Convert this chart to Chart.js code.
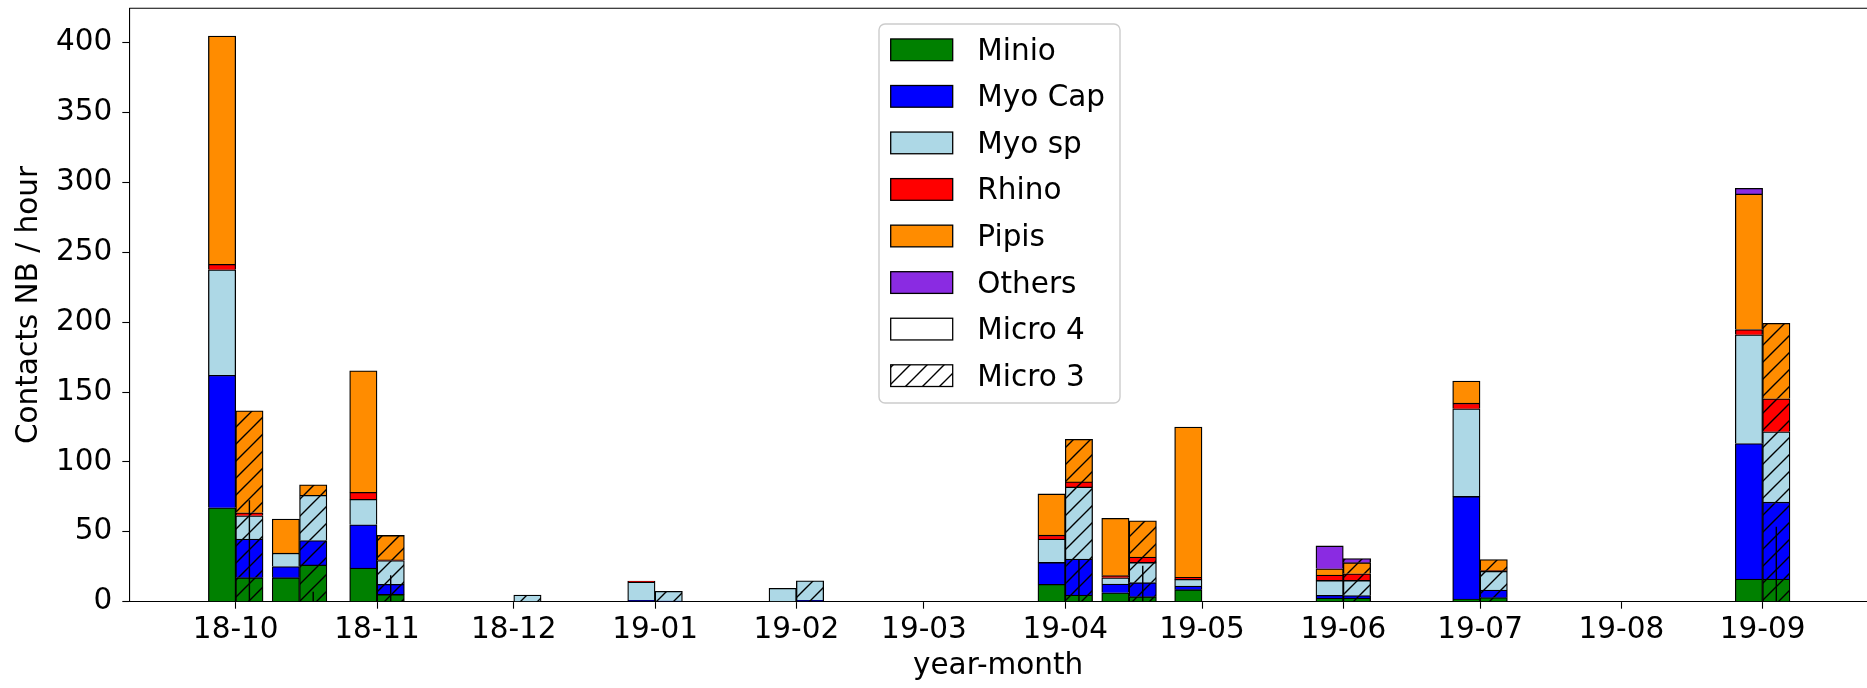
<!DOCTYPE html>
<html>
<head>
<meta charset="utf-8">
<script src="https://cdn.jsdelivr.net/npm/chart.js@4.4.1/dist/chart.umd.min.js"></script>
<style>
  html, body { margin: 0; padding: 0; background: #fff; overflow: hidden; }
  #wrap { width: 1867px; height: 688px; position: relative; }
</style>
</head>
<body>
<div id="wrap"><canvas id="chart"></canvas></div>
<script>
// sampling dates (one Micro 4 bar left of the date, one Micro 3 bar right of it)
const sampleDates = ['2018-10-01', '2018-10-15', '2018-11-01', '2018-12-01', '2019-01-01', '2019-02-01',
                     '2019-04-01', '2019-04-15', '2019-05-01', '2019-06-01', '2019-07-01', '2019-09-01'];

const monthStarts = ['2018-10-01', '2018-11-01', '2018-12-01', '2019-01-01', '2019-02-01', '2019-03-01',
                     '2019-04-01', '2019-05-01', '2019-06-01', '2019-07-01', '2019-08-01', '2019-09-01'];
const monthLabels = ['18-10', '18-11', '18-12', '19-01', '19-02', '19-03',
                     '19-04', '19-05', '19-06', '19-07', '19-08', '19-09'];

const yTicks = [0, 50, 100, 150, 200, 250, 300, 350, 400];

const species = ['Minio', 'Myo Cap', 'Myo sp', 'Rhino', 'Pipis', 'Others'];
const speciesColors = ['#008000', '#0000ff', '#add8e6', '#ff0000', '#ff8c00', '#8a2be2'];

// Micro 4 (contacts / hour)
const minio4  = [67.2, 17.2, 24,   0,   0,   0,   12.4, 6.4, 8.6,   2.6,  1.9,  16.2];
const myoCap4 = [94.8, 8,    31,   0,   1,   0,   15.7, 6.2, 2.6,   2,    73.4, 97];
const myoSp4  = [75.4, 9.5,  18.2, 0,   13,  9.6, 16.7, 4.5, 4.8,   10.6, 62.7, 77.7];
const rhino4  = [4,    0,    5,    0,   0.8, 0,   2.8,  1.5, 1.5,   3.8,  4,    3.8];
const pipis4  = [163.3, 24.4, 87,  0,   0,   0,   29.5, 41,  107.5, 4.6,  15.8, 97];
const others4 = [0,    0,    0,    0,   0,   0,   0,    0,   0,     16.3, 0,    4];

// Micro 3 (contacts / hour)
const minio3  = [17.2, 26.3, 5.2,  0,   0,   0,   4.8,  3.6, 0, 2.6,  2.9,  16.2];
const myoCap3 = [27.6, 17.4, 7.2,  0,   0.5, 1,   25.7, 10,  0, 1.7,  5.4,  55];
const myoSp3  = [16.6, 32.4, 17,   4.8, 6.9, 14,  51.6, 14.5, 0, 10.9, 13.4, 50.4];
const rhino3  = [2.2,  0,    0.5,  0,   0,   0,   3.6,  3.8, 0, 4.8,  0.5,  23.5];
const pipis3  = [72.9, 7.5,  17.5, 0,   0,   0,   30.5, 26,  0, 7.9,  8,    54];
const others3 = [0,    0,    0,    0,   0,   0,   0,    0,   0, 2.9,  0,    0];

// upper end of the error line drawn on the Micro 3 bars
const err3 = [72.5, 7.2, 18.9, 0, 0, 0, 29.8, 25.7, 0, 0, 0, 53.6];

const micro4 = [minio4, myoCap4, myoSp4, rhino4, pipis4, others4];
const micro3 = [minio3, myoCap3, myoSp3, rhino3, pipis3, others3];

const barDays = 6; // each bar is 6 days wide

const origin = Date.UTC(2018, 9, 1);
function dayOf(s) {
  const [y, m, d] = s.split('-').map(Number);
  return (Date.UTC(y, m - 1, d) - origin) / 86400000;
}

function hatch(color) {
  const s = 17;
  const c = document.createElement('canvas');
  c.width = s; c.height = s;
  const g = c.getContext('2d');
  g.fillStyle = color;
  g.fillRect(0, 0, s, s);
  g.strokeStyle = '#000';
  g.lineWidth = 1.4;
  g.beginPath();
  g.moveTo(-2, s + 2); g.lineTo(s + 2, -2);
  g.moveTo(-2, 2); g.lineTo(2, -2);
  g.moveTo(s - 2, s + 2); g.lineTo(s + 2, s - 2);
  g.stroke();
  return g.createPattern(c, 'repeat');
}

const xs = sampleDates.map(dayOf);
const lo = xs[0] - barDays, hi = xs[xs.length - 1] + barDays;
const xMin = lo - 0.05 * (hi - lo);
const xMax = 357.9; // right spine falls just outside the picture

const datasets = [];
[[micro4, 'm4', false], [micro3, 'm3', true]].forEach(([rows, stack, hatched]) => {
  rows.forEach((vals, k) => {
    datasets.push({
      label: species[k] + ' ' + stack,
      stack: stack,
      data: xs.map((x, i) => ({ x: x, y: vals[i] || null })),
      backgroundColor: hatched ? hatch(speciesColors[k]) : speciesColors[k],
      borderColor: '#000',
      borderWidth: 1.3,
      barThickness: 27.35
    });
  });
});

err3.forEach((e, i) => {
  if (!e) return;
  const x = xs[i] + barDays / 2;
  datasets.push({
    type: 'line',
    label: 'err' + i,
    stack: 'err' + i,
    order: -1,
    data: [{ x: x, y: 0 }, { x: x, y: e }],
    borderColor: '#000',
    borderWidth: 1.4,
    pointRadius: 0,
    fill: false
  });
});

const legendItems = species.map((s, k) => ({ label: s, fill: speciesColors[k] }))
  .concat([{ label: 'Micro 4', fill: '#ffffff' }, { label: 'Micro 3', fill: hatch('#ffffff') }]);

const frame = {
  id: 'frame',
  afterDraw(chart) {
    const { ctx, chartArea } = chart;
    ctx.save();
    ctx.strokeStyle = '#000';
    ctx.lineWidth = 1.1;
    ctx.beginPath();
    ctx.moveTo(chartArea.left, chartArea.top);
    ctx.lineTo(chartArea.right + 5, chartArea.top);
    ctx.stroke();

    // legend
    const bx = 879, by = 24, bw = 241, bh = 379, r = 6;
    ctx.beginPath();
    ctx.moveTo(bx + r, by);
    ctx.arcTo(bx + bw, by, bx + bw, by + bh, r);
    ctx.arcTo(bx + bw, by + bh, bx, by + bh, r);
    ctx.arcTo(bx, by + bh, bx, by, r);
    ctx.arcTo(bx, by, bx + bw, by, r);
    ctx.closePath();
    ctx.fillStyle = 'rgba(255,255,255,0.8)';
    ctx.fill();
    ctx.strokeStyle = '#cccccc';
    ctx.lineWidth = 1.4;
    ctx.stroke();

    ctx.font = '29.5px "DejaVu Sans"';
    ctx.textBaseline = 'alphabetic';
    legendItems.forEach((it, i) => {
      const cy = 49.8 + i * 46.55;
      ctx.fillStyle = it.fill;
      ctx.fillRect(890.7, cy - 10.85, 62, 21.7);
      ctx.strokeStyle = '#000';
      ctx.lineWidth = 1.3;
      ctx.strokeRect(890.7, cy - 10.85, 62, 21.7);
      ctx.fillStyle = '#000';
      ctx.fillText(it.label, 977.3, cy + 10);
    });
    ctx.restore();
  }
};

Chart.defaults.font.family = '"DejaVu Sans"';
Chart.defaults.font.size = 29.5;
Chart.defaults.color = '#000';

new Chart(document.getElementById('chart'), {
  type: 'bar',
  data: { datasets },
  options: {
    responsive: true,
    maintainAspectRatio: false,
    animation: false,
    layout: { padding: { top: 8.3, right: 0, left: 0, bottom: 0 } },
    plugins: { legend: { display: false }, tooltip: { enabled: false } },
    scales: {
      x: {
        type: 'linear',
        offset: false,
        min: xMin,
        max: xMax,
        grid: { offset: false, drawOnChartArea: false, tickLength: 7, tickWidth: 1.1, tickColor: '#000' },
        border: { color: '#000', width: 1.1 },
        afterBuildTicks: s => { s.ticks = monthStarts.map(d => ({ value: dayOf(d) })); },
        afterFit: s => { s.height = 86.3; s.paddingLeft = 0; s.paddingRight = 0; },
        ticks: {
          autoSkip: false, maxRotation: 0, padding: 4,
          callback: v => monthLabels[monthStarts.map(dayOf).indexOf(v)]
        },
        title: { display: true, text: 'year-month', padding: { top: 0, bottom: 4 } }
      },
      y: {
        stacked: true,
        min: 0,
        max: 424.5,
        grid: { drawOnChartArea: false, tickLength: 7, tickWidth: 1.1, tickColor: '#000' },
        border: { color: '#000', width: 1.1 },
        afterBuildTicks: s => { s.ticks = yTicks.map(v => ({ value: v })); },
        afterFit: s => { s.width = 129.3; s.paddingTop = 0; s.paddingBottom = 0; },
        ticks: { padding: 10, includeBounds: false },
        title: { display: true, text: 'Contacts NB / hour', padding: { top: 12, bottom: 0 } }
      }
    }
  },
  plugins: [frame]
});
</script>
</body>
</html>
